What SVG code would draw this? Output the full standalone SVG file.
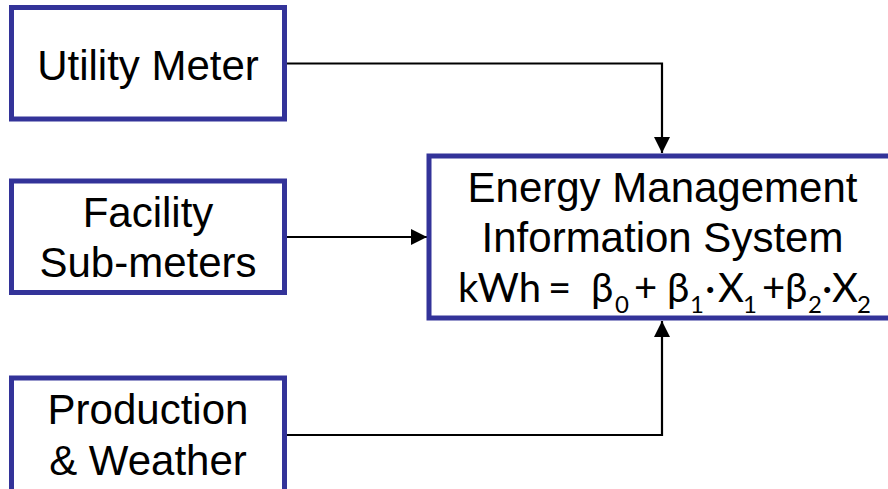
<svg xmlns="http://www.w3.org/2000/svg" width="888" height="489" viewBox="0 0 888 489">
<defs>
<style>
.box{fill:#ffffff;stroke:#333399;stroke-width:5}
.lbl{font-family:"Liberation Sans",Arial,sans-serif;font-size:42px;fill:#000000;text-anchor:middle}
.eq{font-family:Lato,"Open Sans",sans-serif;font-size:40px;fill:#000000}
.sub{font-size:24px}
.conn{fill:none;stroke:#000000;stroke-width:2.2}
</style>
<marker id="ah" viewBox="0 0 10 10" refX="10" refY="5" markerWidth="16" markerHeight="16" markerUnits="userSpaceOnUse" orient="auto">
<path d="M0,0 L10,5 L0,10 Z" fill="#000000"/>
</marker>
</defs>
<rect width="888" height="489" fill="#ffffff"/>
<g id="connectors">
<path class="conn" d="M285,63.5 H662 V153" marker-end="url(#ah)"/>
<path class="conn" d="M285,237 H427" marker-end="url(#ah)"/>
<path class="conn" d="M285,435 H662 V321" marker-end="url(#ah)"/>
</g>
<g id="utility-meter">
<rect class="box" x="11.5" y="7.5" width="273" height="111.5"/>
<text class="lbl" x="148" y="80">Utility Meter</text>
</g>
<g id="facility-submeters">
<rect class="box" x="11.5" y="181" width="273" height="111.5"/>
<text class="lbl" x="148" y="227">Facility</text>
<text class="lbl" x="148" y="277">Sub-meters</text>
</g>
<g id="production-weather">
<rect class="box" x="11.5" y="378" width="273" height="125"/>
<text class="lbl" x="148" y="424">Production</text>
<text class="lbl" x="148" y="475">&amp; Weather</text>
</g>
<g id="emis">
<rect class="box" x="429" y="156" width="466" height="162"/>
<text class="lbl" x="662.5" y="202">Energy Management</text>
<text class="lbl" x="662.5" y="252">Information System</text>
<text class="eq" y="302"><tspan x="458">kWh</tspan><tspan x="548">=</tspan><tspan x="591">β</tspan><tspan class="sub" x="615" dy="11">0</tspan><tspan x="634" dy="-11">+</tspan><tspan x="667">β</tspan><tspan class="sub" x="690" dy="11">1</tspan><tspan x="705" dy="-11">·</tspan><tspan x="718">X</tspan><tspan class="sub" x="743" dy="11">1</tspan><tspan x="762" dy="-11">+</tspan><tspan x="785">β</tspan><tspan class="sub" x="808" dy="11">2</tspan><tspan x="822" dy="-11">·</tspan><tspan x="832">X</tspan><tspan class="sub" x="857" dy="11">2</tspan></text>
</g>
</svg>
